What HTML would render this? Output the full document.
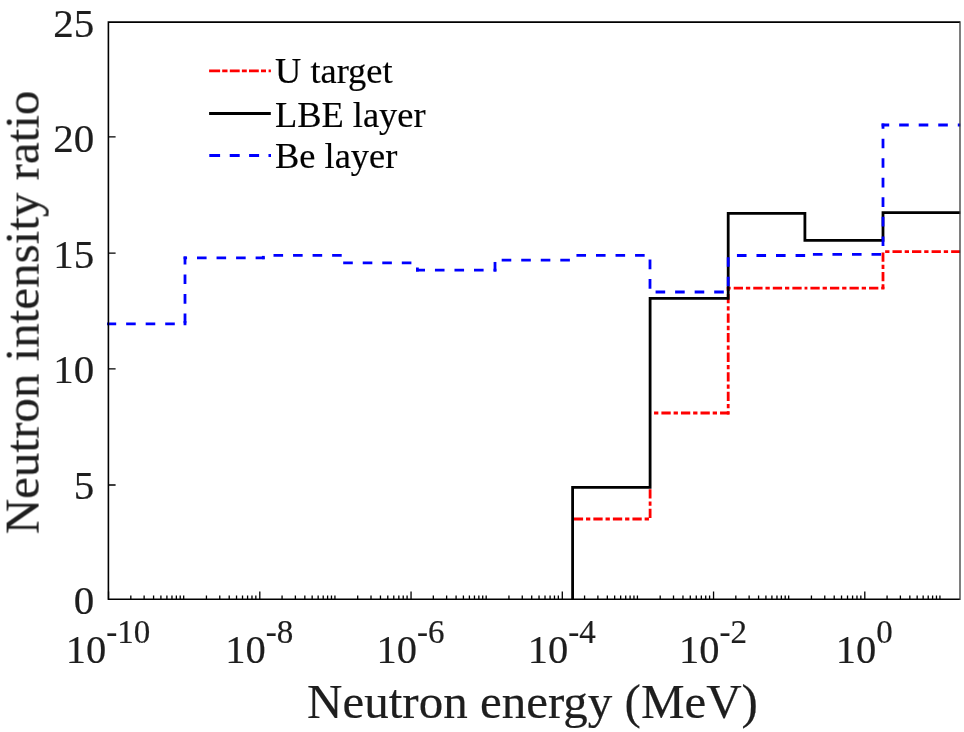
<!DOCTYPE html>
<html><head><meta charset="utf-8"><style>
html,body{margin:0;padding:0;background:#fff;width:964px;height:732px;overflow:hidden}
svg{display:block}
text{font-family:"Liberation Serif",serif;fill:#000;stroke:#000;stroke-width:0.2px}
.ax{fill:#1e1e1e;stroke:#1e1e1e}
</style></head><body>
<svg width="964" height="732" viewBox="0 0 964 732">
<defs><clipPath id="ax"><rect x="106.5" y="22.15" width="853.8" height="577.15"/></clipPath></defs>
<rect width="964" height="732" fill="#fff"/>

<path d="M108.55 599.3V591.5999999999999M130.82 599.3V595.4M144.13 599.3V595.4M153.58 599.3V595.4M160.91 599.3V595.4M166.90 599.3V595.4M171.96 599.3V595.4M176.35 599.3V595.4M180.21 599.3V595.4M183.68 599.3V595.4M206.44 599.3V595.4M219.76 599.3V595.4M229.21 599.3V595.4M236.53 599.3V595.4M242.52 599.3V595.4M247.59 599.3V595.4M251.97 599.3V595.4M255.84 599.3V595.4M259.80 599.3V591.5999999999999M282.07 599.3V595.4M295.38 599.3V595.4M304.83 599.3V595.4M312.16 599.3V595.4M318.15 599.3V595.4M323.21 599.3V595.4M327.60 599.3V595.4M331.46 599.3V595.4M334.93 599.3V595.4M357.69 599.3V595.4M371.01 599.3V595.4M380.46 599.3V595.4M387.78 599.3V595.4M393.77 599.3V595.4M398.84 599.3V595.4M403.22 599.3V595.4M407.09 599.3V595.4M411.05 599.3V591.5999999999999M433.32 599.3V595.4M446.63 599.3V595.4M456.08 599.3V595.4M463.41 599.3V595.4M469.40 599.3V595.4M474.46 599.3V595.4M478.85 599.3V595.4M482.71 599.3V595.4M486.18 599.3V595.4M508.94 599.3V595.4M522.26 599.3V595.4M531.71 599.3V595.4M539.03 599.3V595.4M545.02 599.3V595.4M550.09 599.3V595.4M554.47 599.3V595.4M558.34 599.3V595.4M562.30 599.3V591.5999999999999M584.57 599.3V595.4M597.88 599.3V595.4M607.33 599.3V595.4M614.66 599.3V595.4M620.65 599.3V595.4M625.71 599.3V595.4M630.10 599.3V595.4M633.96 599.3V595.4M637.42 599.3V595.4M660.19 599.3V595.4M673.51 599.3V595.4M682.96 599.3V595.4M690.28 599.3V595.4M696.27 599.3V595.4M701.34 599.3V595.4M705.72 599.3V595.4M709.59 599.3V595.4M713.55 599.3V591.5999999999999M735.82 599.3V595.4M749.13 599.3V595.4M758.58 599.3V595.4M765.91 599.3V595.4M771.90 599.3V595.4M776.96 599.3V595.4M781.35 599.3V595.4M785.21 599.3V595.4M788.67 599.3V595.4M811.44 599.3V595.4M824.76 599.3V595.4M834.21 599.3V595.4M841.53 599.3V595.4M847.52 599.3V595.4M852.59 599.3V595.4M856.97 599.3V595.4M860.84 599.3V595.4M864.80 599.3V591.5999999999999M887.07 599.3V595.4M900.38 599.3V595.4M909.83 599.3V595.4M917.16 599.3V595.4M923.15 599.3V595.4M928.21 599.3V595.4M932.60 599.3V595.4M936.46 599.3V595.4M939.92 599.3V595.4M108.4 485.00H115.60000000000001M108.4 368.90H115.60000000000001M108.4 253.10H115.60000000000001M108.4 136.90H115.60000000000001" stroke="#000" stroke-width="1.3" fill="none"/>
<g clip-path="url(#ax)">
<path d="M572.6 519.0L650.1 519.0" stroke="#f00" stroke-width="2.8" fill="none" stroke-linecap="square" stroke-dasharray="6.50 5.70 1.50 5.85" stroke-dashoffset="16.96"/>
<path d="M650.1 519.0L650.1 486.5" stroke="#f00" stroke-width="2.8" fill="none" stroke-linecap="square" stroke-dasharray="6.50 5.70 1.50 5.85" stroke-dashoffset="17.15"/>
<path d="M650.1 413.0L728.2 413.0" stroke="#f00" stroke-width="2.8" fill="none" stroke-linecap="square" stroke-dasharray="6.50 5.70 1.50 5.85" stroke-dashoffset="6.85"/>
<path d="M728.2 413.0L728.2 288.2" stroke="#f00" stroke-width="2.8" fill="none" stroke-linecap="square" stroke-dasharray="6.50 5.70 1.50 5.85" stroke-dashoffset="6.15"/>
<path d="M728.2 288.2L806.0 288.2" stroke="#f00" stroke-width="2.8" fill="none" stroke-linecap="square" stroke-dasharray="6.50 5.70 1.50 5.85" stroke-dashoffset="12.65"/>
<path d="M806.0 288.2L883.0 288.2" stroke="#f00" stroke-width="2.8" fill="none" stroke-linecap="square" stroke-dasharray="6.50 5.70 1.50 5.85" stroke-dashoffset="13.75"/>
<path d="M883.0 288.2L883.0 251.6" stroke="#f00" stroke-width="2.8" fill="none" stroke-linecap="square" stroke-dasharray="6.50 5.70 1.50 5.85" stroke-dashoffset="11.25"/>
<path d="M883.0 251.6L960.5 251.6" stroke="#f00" stroke-width="2.8" fill="none" stroke-linecap="square" stroke-dasharray="6.50 5.70 1.50 5.85" stroke-dashoffset="8.67"/>
<path d="M572.6 600V487.3H650.1V298.3H728.2V213.4H804.9V240.4H883.0V212.7H961" stroke="#000" stroke-width="2.8" fill="none"/>
<path d="M108.4 323.9L185.0 323.9" stroke="#00f" stroke-width="2.8" fill="none" stroke-linecap="square" stroke-dasharray="6.80 12.74" stroke-dashoffset="0.41"/>
<path d="M185.0 323.9L185.0 257.8" stroke="#00f" stroke-width="2.8" fill="none" stroke-linecap="square" stroke-dasharray="6.80 12.74" stroke-dashoffset="17.42"/>
<path d="M185.0 257.8L263.3 257.8" stroke="#00f" stroke-width="2.8" fill="none" stroke-linecap="square" stroke-dasharray="6.80 12.74" stroke-dashoffset="6.14"/>
<path d="M263.3 257.8L263.3 255.4" stroke="#00f" stroke-width="2.8" fill="none" stroke-linecap="square" stroke-dasharray="6.80 12.74" stroke-dashoffset="6.28"/>
<path d="M263.3 255.4L342.3 255.4" stroke="#00f" stroke-width="2.8" fill="none" stroke-linecap="square" stroke-dasharray="6.80 12.74" stroke-dashoffset="7.94"/>
<path d="M342.3 255.4L342.3 262.9" stroke="#00f" stroke-width="2.8" fill="none" stroke-linecap="square" stroke-dasharray="6.80 12.74" stroke-dashoffset="8.78"/>
<path d="M342.3 262.9L417.4 262.9" stroke="#00f" stroke-width="2.8" fill="none" stroke-linecap="square" stroke-dasharray="6.80 12.74" stroke-dashoffset="17.25"/>
<path d="M417.4 262.9L417.4 270.1" stroke="#00f" stroke-width="2.8" fill="none" stroke-linecap="square" stroke-dasharray="6.80 12.74" stroke-dashoffset="13.54"/>
<path d="M417.4 270.1L495.0 270.1" stroke="#00f" stroke-width="2.8" fill="none" stroke-linecap="square" stroke-dasharray="6.80 12.74" stroke-dashoffset="0.61"/>
<path d="M495.0 270.1L495.0 260.1" stroke="#00f" stroke-width="2.8" fill="none" stroke-linecap="square" stroke-dasharray="6.80 12.74" stroke-dashoffset="0.05"/>
<path d="M495.0 260.1L572.6 260.1" stroke="#00f" stroke-width="2.8" fill="none" stroke-linecap="square" stroke-dasharray="6.80 12.74" stroke-dashoffset="11.47"/>
<path d="M572.6 260.1L572.6 255.4" stroke="#00f" stroke-width="2.8" fill="none" stroke-linecap="square" stroke-dasharray="6.80 12.74" stroke-dashoffset="10.91"/>
<path d="M572.6 255.4L650.0 255.4" stroke="#00f" stroke-width="2.8" fill="none" stroke-linecap="square" stroke-dasharray="6.80 12.74" stroke-dashoffset="14.30"/>
<path d="M650.0 255.4L650.0 292.0" stroke="#00f" stroke-width="2.8" fill="none" stroke-linecap="square" stroke-dasharray="6.80 12.74" stroke-dashoffset="14.01"/>
<path d="M650.0 292.0L728.2 292.0" stroke="#00f" stroke-width="2.8" fill="none" stroke-linecap="square" stroke-dasharray="6.80 12.74" stroke-dashoffset="12.56"/>
<path d="M728.2 292.0L728.2 255.5" stroke="#00f" stroke-width="2.8" fill="none" stroke-linecap="square" stroke-dasharray="6.80 12.74" stroke-dashoffset="12.41"/>
<path d="M728.2 255.5L804.9 255.5" stroke="#00f" stroke-width="2.8" fill="none" stroke-linecap="square" stroke-dasharray="6.80 12.74" stroke-dashoffset="9.40"/>
<path d="M804.9 255.5L804.9 254.4" stroke="#00f" stroke-width="2.8" fill="none" stroke-linecap="square" stroke-dasharray="6.80 12.74" stroke-dashoffset="7.94"/>
<path d="M804.9 254.4L883.0 254.4" stroke="#00f" stroke-width="2.8" fill="none" stroke-linecap="square" stroke-dasharray="6.80 12.74" stroke-dashoffset="10.14"/>
<path d="M883.0 254.4L883.0 125.0" stroke="#00f" stroke-width="2.8" fill="none" stroke-linecap="square" stroke-dasharray="6.80 12.74" stroke-dashoffset="9.74"/>
<path d="M883.0 125.0L960.5 125.0" stroke="#00f" stroke-width="2.8" fill="none" stroke-linecap="square" stroke-dasharray="6.80 12.74" stroke-dashoffset="1.98"/>
<path d="M185 325.3V321" stroke="#00f" stroke-width="2.8" fill="none"/>
</g>
<path d="M960.0 22.15H108.4V599.3H960.0" stroke="#000" stroke-width="1.6" fill="none"/>
<path d="M960.0 21.349999999999998V600.0999999999999" stroke="#3a3a3a" stroke-width="1.3" fill="none"/>
<path d="M209.1 70.8H220.1M222.2 70.8H227.5M229.8 70.8H239.7M241.9 70.8H246.8M249 70.8H258.8M261 70.8H266M268.6 70.8H270.9" stroke="#f00" stroke-width="2.8" fill="none"/>
<path d="M209.1 113.5H270.8" stroke="#000" stroke-width="2.8" fill="none"/>
<path d="M209.3 155.5H220.1M229.7 155.5H239.7M249.1 155.5H259.1M268.5 155.5H271.0" stroke="#00f" stroke-width="2.8" fill="none"/>
<g opacity="0.999">
<text x="275" y="83.3" font-size="36.4">U target</text>
<text x="275" y="126.6" font-size="36.4">LBE layer</text>
<text x="275" y="168" font-size="36.4">Be layer</text>
<text class="ax" x="94.2" y="614.4" font-size="41" text-anchor="end">0</text>
<text class="ax" x="94.2" y="498.8" font-size="41" text-anchor="end">5</text>
<text class="ax" x="94.2" y="383.2" font-size="41" text-anchor="end">10</text>
<text class="ax" x="94.2" y="267.6" font-size="41" text-anchor="end">15</text>
<text class="ax" x="94.2" y="152.0" font-size="41" text-anchor="end">20</text>
<text class="ax" x="94.2" y="36.5" font-size="41" text-anchor="end">25</text>
<text class="ax" x="107.95" y="662.6" font-size="40.5" text-anchor="middle">10<tspan font-size="33" dy="-19.6">-10</tspan></text>
<text class="ax" x="259.20" y="662.6" font-size="40.5" text-anchor="middle">10<tspan font-size="33" dy="-19.6">-8</tspan></text>
<text class="ax" x="410.45" y="662.6" font-size="40.5" text-anchor="middle">10<tspan font-size="33" dy="-19.6">-6</tspan></text>
<text class="ax" x="561.70" y="662.6" font-size="40.5" text-anchor="middle">10<tspan font-size="33" dy="-19.6">-4</tspan></text>
<text class="ax" x="712.95" y="662.6" font-size="40.5" text-anchor="middle">10<tspan font-size="33" dy="-19.6">-2</tspan></text>
<text class="ax" x="864.20" y="662.6" font-size="40.5" text-anchor="middle">10<tspan font-size="33" dy="-19.6">0</tspan></text>
<text class="ax" x="532.5" y="718" font-size="49" text-anchor="middle">Neutron energy (MeV)</text>
<text class="ax" transform="translate(38.6 312.4) rotate(-90)" font-size="49" text-anchor="middle">Neutron intensity ratio</text>
</g>
</svg></body></html>
